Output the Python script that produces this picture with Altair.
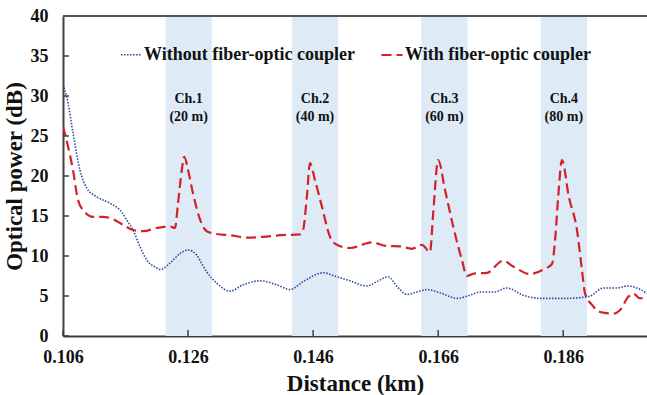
import altair as alt
import pandas as pd

# Series: "Without fiber-optic coupler" (blue dotted)
x_without = [0.1060, 0.1066, 0.1076, 0.1087, 0.1098, 0.1114, 0.1135, 0.1151, 0.1162, 0.1172,
             0.1183, 0.1194, 0.1210, 0.1215, 0.1231, 0.1247, 0.1260, 0.1274, 0.1283, 0.1290,
             0.1306, 0.1327, 0.1348, 0.1375, 0.1402, 0.1423, 0.1444, 0.1476, 0.1498, 0.1519,
             0.1546, 0.1562, 0.1580, 0.1594, 0.1610, 0.1626, 0.1642, 0.1663, 0.1690, 0.1711,
             0.1727, 0.1749, 0.1770, 0.1796, 0.1823, 0.1861, 0.1887, 0.1903, 0.1924, 0.1946,
             0.1962, 0.1978, 0.1994]
y_without = [31.4, 29.9, 25.4, 20.75, 18.5, 17.4, 16.6, 15.75, 14.5, 13.25,
             11.2, 9.5, 8.5, 8.3, 9.1, 10.3, 10.75, 10.1, 8.9, 8.0,
             6.6, 5.6, 6.4, 6.9, 6.4, 5.8, 6.8, 7.9, 7.4, 6.9,
             6.25, 6.8, 7.4, 6.2, 5.2, 5.5, 5.8, 5.4, 4.7, 5.1,
             5.5, 5.5, 6.0, 5.1, 4.7, 4.7, 4.8, 5.0, 6.0, 6.0,
             6.25, 6.0, 5.3]

# Series: "With fiber-optic coupler" (red dashed)
x_with = [0.1060, 0.1068, 0.1076, 0.1084, 0.1095, 0.1108, 0.1124, 0.1140, 0.1156, 0.1172,
          0.1188, 0.1210, 0.1231, 0.1239, 0.1244, 0.1250, 0.1254, 0.1260, 0.1268, 0.1279,
          0.1290, 0.1306, 0.1327, 0.1354, 0.1380, 0.1407, 0.1439, 0.1444, 0.1450, 0.1455,
          0.1463, 0.1474, 0.1487, 0.1498, 0.1519, 0.1554, 0.1578, 0.1599, 0.1618, 0.1634,
          0.1647, 0.1652, 0.1660, 0.1671, 0.1684, 0.1698, 0.1706, 0.1717, 0.1738, 0.1764,
          0.1780, 0.1807, 0.1828, 0.1842, 0.1847, 0.1852, 0.1858, 0.1869, 0.1882, 0.1890,
          0.1895, 0.1906, 0.1919, 0.1940, 0.1951, 0.1964, 0.1972, 0.1983, 0.1994]
y_with = [26.2, 23.7, 20.75, 17.0, 15.5, 14.9, 14.9, 14.6, 13.9, 13.25,
          13.1, 13.5, 13.7, 13.5, 16.6, 20.75, 22.4, 20.75, 17.8, 14.6,
          13.1, 12.75, 12.6, 12.3, 12.4, 12.6, 12.7, 13.25, 17.4, 21.6,
          19.5, 16.2, 12.4, 11.4, 11.0, 11.7, 11.25, 11.2, 10.9, 11.4,
          10.5, 15.3, 22.0, 18.25, 13.7, 9.5, 7.5, 7.8, 7.9, 9.4,
          8.7, 7.75, 8.3, 9.0, 12.0, 17.4, 22.0, 17.4, 13.25, 8.25,
          5.3, 3.9, 3.0, 2.8, 3.25, 4.9, 5.3, 4.7, 5.0]

series_names = ["Without fiber-optic coupler", "With fiber-optic coupler"]

# Channel bands
band_start = [0.1224, 0.1426, 0.1633, 0.1824]
band_end = [0.1298, 0.1500, 0.1707, 0.1898]
band_name = ["Ch.1", "Ch.2", "Ch.3", "Ch.4"]
band_len = ["(20 m)", "(40 m)", "(60 m)", "(80 m)"]

x_ticks = [0.106, 0.126, 0.146, 0.166, 0.186]
y_ticks = [0, 5, 10, 15, 20, 25, 30, 35, 40]

FONT = "Liberation Serif"
AXIS_COLOR = "#404040"
W, H = 584, 320
X_DOMAIN = [0.106, 0.1994]

lines_df = pd.concat([
    pd.DataFrame({"x": x_without, "y": y_without, "series": series_names[0]}),
    pd.DataFrame({"x": x_with, "y": y_with, "series": series_names[1]}),
], ignore_index=True)
bands_df = pd.DataFrame({"start": band_start, "end": band_end, "name": band_name, "len": band_len})
xt_df = pd.DataFrame({"t": x_ticks})
yt_df = pd.DataFrame({"t": y_ticks})

xscale = alt.Scale(domain=X_DOMAIN, nice=False, zero=False)
yscale = alt.Scale(domain=[0, 40], nice=False)

x_axis = alt.Axis(values=x_ticks, format=".3f", title="Distance (km)", tickSize=0,
                  labelPadding=12, titlePadding=6, labelFlush=False, labelOverlap=False)
y_axis = alt.Axis(values=y_ticks, format="d", title="Optical power (dB)", tickSize=0,
                  labelPadding=15, titlePadding=4, labelOverlap=False, labelFlush=False)

bands = alt.Chart(bands_df).mark_rect(color="#DEEBF7").encode(
    x=alt.X("start:Q", scale=xscale, axis=x_axis),
    x2="end:Q",
)

band_base = alt.Chart(bands_df).transform_calculate(mid="(datum.start + datum.end) / 2")
ch_text = band_base.mark_text(font=FONT, fontWeight="bold", fontSize=14, color="#111111").encode(
    x=alt.X("mid:Q", scale=xscale, axis=x_axis), y=alt.value(83), text="name:N"
)
len_text = band_base.mark_text(font=FONT, fontWeight="bold", fontSize=14, color="#111111").encode(
    x=alt.X("mid:Q", scale=xscale, axis=x_axis), y=alt.value(101), text="len:N"
)

lines = alt.Chart(lines_df).mark_line(interpolate="monotone", clip=True).encode(
    x=alt.X("x:Q", scale=xscale, axis=x_axis),
    y=alt.Y("y:Q", scale=yscale, axis=y_axis),
    color=alt.Color("series:N", sort=series_names,
                    scale=alt.Scale(domain=series_names, range=["#2B4C9B", "#D42027"]),
                    legend=alt.Legend(title=None, orient="none", direction="horizontal",
                                      legendX=57, legendY=27, symbolType="stroke",
                                      symbolSize=441, symbolStrokeWidth=2,
                                      labelFont=FONT, labelFontWeight="bold", labelFontSize=18,
                                      labelColor="#111111", labelOffset=1, columnPadding=22,
                                      labelLimit=400)),
    strokeDash=alt.StrokeDash("series:N", sort=series_names,
                              scale=alt.Scale(domain=series_names, range=[[1.5, 1.5], [10, 5]]),
                              legend=None),
    strokeWidth=alt.StrokeWidth("series:N", sort=series_names,
                                scale=alt.Scale(domain=series_names, range=[1.6, 2.2]),
                                legend=None),
)

xticks = alt.Chart(xt_df).mark_rule(color=AXIS_COLOR, strokeWidth=1.5).encode(
    x=alt.X("t:Q", scale=xscale, axis=x_axis), y=alt.value(H), y2=alt.value(H - 6)
)
yticks = alt.Chart(yt_df).mark_rule(color=AXIS_COLOR, strokeWidth=1.5).encode(
    y=alt.Y("t:Q", scale=yscale, axis=y_axis), x=alt.value(0), x2=alt.value(6)
)
top_border = alt.Chart(yt_df).mark_rule(color="#555555", strokeWidth=2).encode(
    x=alt.value(0), x2=alt.value(W), y=alt.value(0)
)

chart = alt.layer(bands, ch_text, len_text, lines, xticks, yticks, top_border).properties(
    width=W, height=H,
    autosize=alt.AutoSizeParams(type="none"),
    padding={"left": 63, "top": 16, "right": 0, "bottom": 59},
).configure_view(stroke=None).configure_axis(
    grid=False, domainColor=AXIS_COLOR, domainWidth=2,
    labelFont=FONT, labelFontWeight="bold", labelFontSize=18, labelColor="#111111",
    titleFont=FONT, titleFontWeight="bold", titleFontSize=23, titleColor="#111111",
)

chart.save("out.html", embed_options={"renderer": "svg", "actions": False})
